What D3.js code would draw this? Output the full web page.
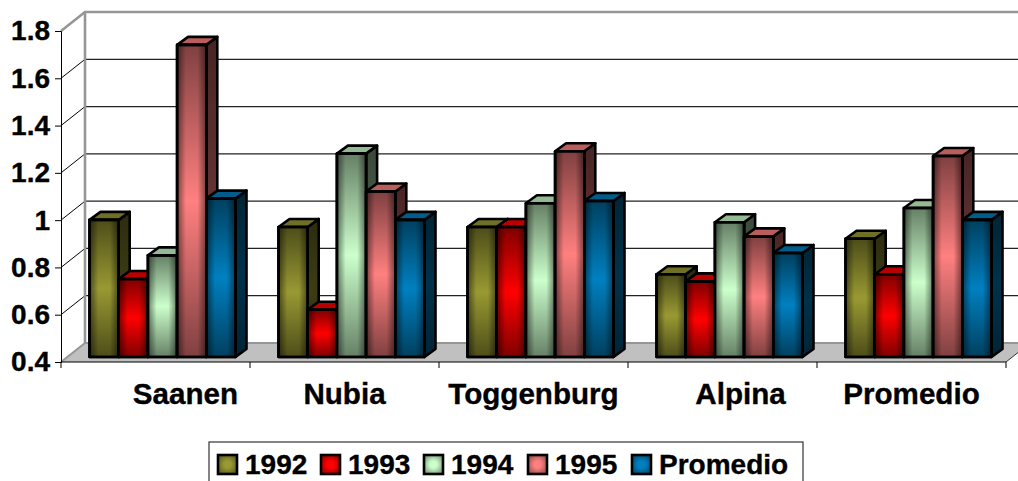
<!DOCTYPE html>
<html>
<head>
<meta charset="utf-8">
<script src="https://cdn.jsdelivr.net/npm/d3@7"></script>
<style>
  html, body { margin: 0; padding: 0; background: #fff; overflow: hidden; }
  svg { display: block; }
  text { font-family: "Liberation Sans", Arial, sans-serif; font-weight: bold; fill: #000; stroke: #000; stroke-width: 0.35px; }
</style>
</head>
<body>
<svg id="chart" width="1018" height="481"></svg>
<script>
// Data
const categories = ['Saanen', 'Nubia', 'Toggenburg', 'Alpina', 'Promedio'];
const seriesNames = ['1992', '1993', '1994', '1995', 'Promedio'];
const values1992 = [0.98, 0.95, 0.95, 0.75, 0.90];
const values1993 = [0.73, 0.60, 0.95, 0.72, 0.75];
const values1994 = [0.83, 1.26, 1.05, 0.97, 1.03];
const values1995 = [1.72, 1.10, 1.27, 0.91, 1.25];
const valuesPromedio = [1.07, 0.98, 1.06, 0.84, 0.98];
const yTicks = [0.4, 0.6, 0.8, 1, 1.2, 1.4, 1.6, 1.8];

const allValues = [values1992, values1993, values1994, values1995, valuesPromedio];

// Colours per series: bright centre, dark edge
const bright = ['#999933', '#ff0000', '#ccffcc', '#ff8080', '#0080c0'];
const dark = ['#4d4d1a', '#800000', '#668066', '#804040', '#004060'];

const svg = d3.select('#chart');
const defs = svg.append('defs');

// Front plane of the axis box and the 3D offset to the back wall
const plotLeft = 61, plotRight = 1006, plotBottom = 362, plotTop = 31;
const wallDx = 24, wallDy = -19;
// Bars stand part way into the floor
const barDx = 7, barDy = -5;
const depthDx = 11, depthDy = -8;
const barsWidth = 146;

const x0 = d3.scaleBand().domain(categories).range([plotLeft, plotRight]);
const x1 = d3.scaleBand().domain(seriesNames).range([0, barsWidth]);
const y = d3.scaleLinear().domain([0.4, 1.8]).range([plotBottom, plotTop]);
const barLeft = (x0.bandwidth() - barsWidth) / 2;

// Gradients: a vertical ramp for each series, plus a shared edge shading
seriesNames.forEach((s, i) => {
  const front = defs.append('linearGradient').attr('id', `front${i}`)
    .attr('x1', 0).attr('y1', 0).attr('x2', 0).attr('y2', 1);
  front.append('stop').attr('offset', '0%').attr('stop-color', dark[i]);
  front.append('stop').attr('offset', '50%').attr('stop-color', bright[i]);
  front.append('stop').attr('offset', '100%').attr('stop-color', dark[i]);

  const side = defs.append('linearGradient').attr('id', `side${i}`)
    .attr('x1', 0).attr('y1', 0).attr('x2', 0).attr('y2', 1);
  side.append('stop').attr('offset', '0%').attr('stop-color', d3.color(dark[i]).darker(1.6));
  side.append('stop').attr('offset', '50%').attr('stop-color', d3.color(dark[i]).darker(0.7));
  side.append('stop').attr('offset', '100%').attr('stop-color', d3.color(dark[i]).darker(1.6));
});
const edge = defs.append('linearGradient').attr('id', 'edgeShade');
edge.append('stop').attr('offset', '0%').attr('stop-color', '#000').attr('stop-opacity', 0.5);
edge.append('stop').attr('offset', '30%').attr('stop-color', '#000').attr('stop-opacity', 0);
edge.append('stop').attr('offset', '70%').attr('stop-color', '#000').attr('stop-opacity', 0);
edge.append('stop').attr('offset', '100%').attr('stop-color', '#000').attr('stop-opacity', 0.5);

const plot = svg.append('g');

// Floor
plot.append('polygon')
  .attr('points', [
    [plotLeft, plotBottom], [plotLeft + wallDx, plotBottom + wallDy],
    [plotRight + wallDx, plotBottom + wallDy], [plotRight, plotBottom]
  ].join(' '))
  .attr('fill', '#c0c0c0');

// Gridlines on the back wall and their diagonals on the side wall
yTicks.slice(1, -1).forEach(t => {
  plot.append('line')
    .attr('x1', plotLeft + wallDx).attr('x2', plotRight + wallDx)
    .attr('y1', y(t) + wallDy).attr('y2', y(t) + wallDy)
    .attr('stroke', '#222').attr('stroke-width', 1.3);
  plot.append('line')
    .attr('x1', plotLeft).attr('x2', plotLeft + wallDx)
    .attr('y1', y(t)).attr('y2', y(t) + wallDy)
    .attr('stroke', '#000').attr('stroke-width', 1);
});

// Gray outline of the walls
plot.append('path')
  .attr('d', `M${plotLeft},${plotTop} L${plotLeft + wallDx},${plotTop + wallDy} L${plotRight + wallDx},${plotTop + wallDy}`)
  .attr('fill', 'none').attr('stroke', '#969696').attr('stroke-width', 2.6);
plot.append('line')
  .attr('x1', plotLeft + wallDx).attr('x2', plotLeft + wallDx)
  .attr('y1', plotTop + wallDy).attr('y2', plotBottom + wallDy)
  .attr('stroke', '#969696').attr('stroke-width', 2.6);
plot.append('line')
  .attr('x1', plotLeft).attr('x2', plotLeft + wallDx)
  .attr('y1', plotBottom).attr('y2', plotBottom + wallDy)
  .attr('stroke', '#969696').attr('stroke-width', 2);
plot.append('line')
  .attr('x1', plotLeft + wallDx).attr('x2', plotRight + wallDx)
  .attr('y1', plotBottom + wallDy).attr('y2', plotBottom + wallDy)
  .attr('stroke', '#969696').attr('stroke-width', 2);
plot.append('line')
  .attr('x1', plotRight).attr('x2', plotRight + wallDx)
  .attr('y1', plotBottom).attr('y2', plotBottom + wallDy)
  .attr('stroke', '#333').attr('stroke-width', 1);

// Bars, one category at a time so later bars cover earlier side faces
categories.forEach((cat, c) => {
  seriesNames.forEach((s, i) => {
    const xa = x0(cat) + barDx + barLeft + x1(s);
    const xb = xa + x1.bandwidth();
    const yb = y(0.4) + barDy;
    const yt = y(allValues[i][c]) + barDy;
    const g = plot.append('g').attr('stroke', '#000').attr('stroke-width', 2.6).attr('stroke-linejoin', 'round');

    g.append('polygon')
      .attr('points', [[xb, yt], [xb + depthDx, yt + depthDy], [xb + depthDx, yb + depthDy], [xb, yb]].join(' '))
      .attr('fill', `url(#side${i})`);
    g.append('polygon')
      .attr('points', [[xa, yt], [xa + depthDx, yt + depthDy], [xb + depthDx, yt + depthDy], [xb, yt]].join(' '))
      .attr('fill', d3.interpolateRgb(dark[i], bright[i])(0.45));
    g.append('rect')
      .attr('x', xa).attr('y', yt).attr('width', xb - xa).attr('height', yb - yt)
      .attr('fill', `url(#front${i})`);
    g.append('rect')
      .attr('x', xa).attr('y', yt).attr('width', xb - xa).attr('height', yb - yt)
      .attr('fill', 'url(#edgeShade)').attr('stroke', 'none');
    g.append('rect')
      .attr('x', xa).attr('y', yt).attr('width', xb - xa).attr('height', yb - yt)
      .attr('fill', 'none');
  });
});

// Y axis
const yAxis = svg.append('g')
  .attr('transform', `translate(${plotLeft},0)`)
  .call(d3.axisLeft(y).tickValues(yTicks).tickFormat(d => d).tickSize(6).tickPadding(5));
yAxis.attr('font-family', null).attr('font-size', null);
yAxis.selectAll('path,line').attr('stroke', '#000').attr('stroke-width', 1);
yAxis.selectAll('text').attr('font-size', 28);

// X axis: ticks sit on the band edges, so they are drawn from the band scale
const xAxis = svg.append('g').attr('transform', `translate(0,${plotBottom})`);
xAxis.append('line').attr('x1', plotLeft).attr('x2', plotRight).attr('stroke', '#000');
categories.concat([null]).forEach(cat => {
  const xt = cat === null ? plotRight : x0(cat);
  xAxis.append('line').attr('x1', xt).attr('x2', xt).attr('y1', 0).attr('y2', 6).attr('stroke', '#000');
});
// Saanen and Alpina sit off centre in the reference
const labelShift = [30, 0, 0, 18, 0];
categories.forEach((cat, c) => {
  xAxis.append('text')
    .attr('x', x0(cat) + x0.bandwidth() / 2 + labelShift[c])
    .attr('y', 42)
    .attr('text-anchor', 'middle')
    .attr('font-size', 29.6)
    .text(cat);
});

// Legend
const legend = svg.append('g');
legend.append('rect')
  .attr('x', 209).attr('y', 442).attr('width', 594).attr('height', 45)
  .attr('fill', '#fff').attr('stroke', '#333').attr('stroke-width', 1.2);

const swatchX = [218, 321, 424, 528, 632];
seriesNames.forEach((s, i) => {
  const item = legend.append('g').attr('transform', `translate(${swatchX[i]},455)`);
  const sg = defs.append('radialGradient').attr('id', `swatch${i}`).attr('r', '70%');
  sg.append('stop').attr('offset', '25%').attr('stop-color', bright[i]);
  sg.append('stop').attr('offset', '100%').attr('stop-color', dark[i]);
  item.append('rect')
    .attr('width', 19).attr('height', 19)
    .attr('fill', `url(#swatch${i})`)
    .attr('stroke', '#000').attr('stroke-width', 2.6);
  item.append('text')
    .attr('x', 27).attr('y', 19)
    .attr('font-size', 28)
    .text(s);
});
</script>
</body>
</html>
